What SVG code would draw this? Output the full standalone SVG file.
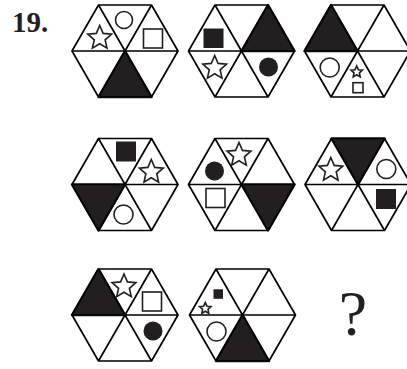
<svg xmlns="http://www.w3.org/2000/svg" width="407" height="369" viewBox="0 0 407 369">
<style>
.hex{fill:none;stroke:#000;stroke-width:1.7;stroke-linejoin:round}
.blk{fill:#231f20;stroke:#231f20;stroke-width:2.5;stroke-linejoin:round}
.ol{fill:#fff;stroke:#231f20;stroke-width:1.6;stroke-linejoin:miter}
.sol{fill:#231f20;stroke:none}
.lbl{font-family:"Liberation Serif","Times New Roman",serif;fill:#231f20}
</style>
<defs>
<path id="hex" d="M-53 0 L-26.5 -46 L26.5 -46 L53 0 L26.5 46 L-26.5 46 Z M-53 0 H53 M-26.5 -46 L26.5 46 M26.5 -46 L-26.5 46"/>
<path id="tT" d="M0 0 L-26.5 -46 L26.5 -46 Z"/>
<path id="tUR" d="M0 0 L26.5 -46 L53 0 Z"/>
<path id="tLR" d="M0 0 L53 0 L26.5 46 Z"/>
<path id="tB" d="M0 0 L26.5 46 L-26.5 46 Z"/>
<path id="tLL" d="M0 0 L-26.5 46 L-53 0 Z"/>
<path id="tUL" d="M0 0 L-53 0 L-26.5 -46 Z"/>
<path id="star" d="M0 -12.5 L3.4 -4.6 L11.9 -3.9 L5.4 1.8 L7.3 10.1 L0 5.7 L-7.3 10.1 L-5.4 1.8 L-11.9 -3.9 L-3.4 -4.6 Z"/>
<path id="sstar" d="M0 -6 L1.7 -2.3 L5.7 -1.9 L2.7 0.9 L3.5 4.9 L0 2.8 L-3.5 4.9 L-2.7 0.9 L-5.7 -1.9 L-1.7 -2.3 Z"/>
</defs>

<text class="lbl" x="12" y="32" font-size="29" font-weight="bold">19.</text>

<g id="hex1" transform="translate(125,51)">
<use href="#tB" class="blk"/>
<use href="#hex" class="hex"/>
<use href="#star" class="ol" x="-25.3" y="-13"/>
<circle class="ol" cx="-1" cy="-31" r="8.5"/>
<rect class="ol" x="18.5" y="-22" width="19" height="19"/>
</g>

<g id="hex2" transform="translate(241.5,51)">
<use href="#tUR" class="blk"/>
<use href="#hex" class="hex"/>
<rect class="sol" x="-38" y="-22.5" width="20" height="19.5"/>
<use href="#star" class="ol" x="-26.8" y="17"/>
<circle class="sol" cx="27" cy="16" r="9.5"/>
</g>

<g id="hex3" transform="translate(357.5,51)">
<use href="#tUL" class="blk"/>
<use href="#hex" class="hex"/>
<circle class="ol" cx="-27.8" cy="16.5" r="9.5"/>
<use href="#sstar" class="ol" x="-0.8" y="21"/>
<rect class="ol" x="-4.5" y="31.7" width="10" height="10"/>
</g>

<g id="hex4" transform="translate(125,184.5)">
<use href="#tLL" class="blk"/>
<use href="#hex" class="hex"/>
<rect class="sol" x="-9" y="-43" width="20" height="20"/>
<use href="#star" class="ol" x="26.3" y="-12.5"/>
<circle class="ol" cx="-1.5" cy="30" r="9.5"/>
</g>

<g id="hex5" transform="translate(241.5,184.5)">
<use href="#tLR" class="blk"/>
<use href="#hex" class="hex"/>
<use href="#star" class="ol" x="-2.5" y="-29.5"/>
<circle class="sol" cx="-27" cy="-13.5" r="9.5"/>
<rect class="ol" x="-35.5" y="4" width="19" height="19"/>
</g>

<g id="hex6" transform="translate(358,184.5)">
<use href="#tT" class="blk"/>
<use href="#hex" class="hex"/>
<use href="#star" class="ol" x="-27.2" y="-14.5"/>
<circle class="ol" cx="28.3" cy="-15.5" r="9.5"/>
<rect class="sol" x="18" y="4.5" width="20" height="20"/>
</g>

<g id="hex7" transform="translate(125,315)">
<use href="#tUL" class="blk"/>
<use href="#hex" class="hex"/>
<use href="#star" class="ol" x="-1" y="-28.5"/>
<rect class="ol" x="17.5" y="-23" width="19" height="19"/>
<circle class="sol" cx="28" cy="16" r="9.5"/>
</g>

<g id="hex8" transform="translate(242.5,315)">
<use href="#tB" class="blk"/>
<use href="#hex" class="hex"/>
<rect class="sol" x="-29" y="-25.7" width="9.5" height="9.5"/>
<use href="#sstar" class="ol" x="-37.2" y="-6.5"/>
<circle class="ol" cx="-26" cy="16.5" r="9.5"/>
</g>

<text class="lbl" x="353" y="335" font-size="64" text-anchor="middle">?</text>
</svg>
